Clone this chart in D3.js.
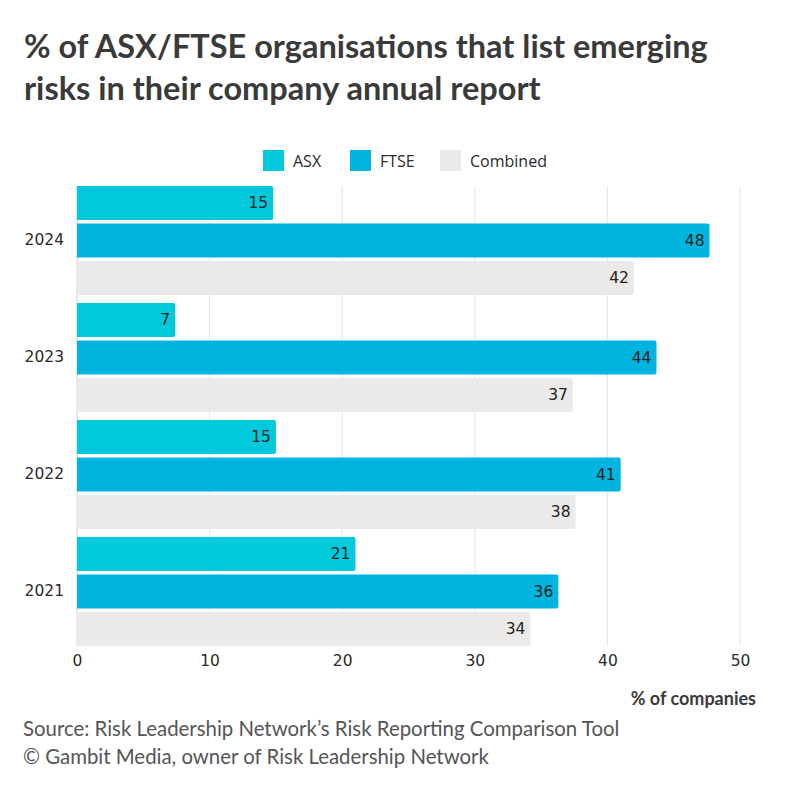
<!DOCTYPE html>
<html><head><meta charset="utf-8">
<script src="https://cdn.jsdelivr.net/npm/d3@7"></script>
<style>body{margin:0;background:#fff;}svg{display:block;}</style>
</head><body>
<svg id="c" width="800" height="800"></svg>
<script>
const years = ["2024", "2023", "2022", "2021"];
const seriesNames = ["ASX", "FTSE", "Combined"];
const asx = [14.8, 7.4, 15.0, 21.0];
const ftse = [47.7, 43.7, 41.0, 36.3];
const combined = [42.0, 37.4, 37.6, 34.2];
const xTicks = [0, 10, 20, 30, 40, 50];
const colors = ["#00C9DB", "#00B4E0", "#EBEAE8"];

const svg = d3.select("#c");
const fontMain = "Lato, 'Open Sans', sans-serif";

svg.append("text").attr("x", 24).attr("y", 58).attr("font-family", fontMain)
  .attr("font-weight", 700).attr("font-size", 32.5).attr("fill", "#3b3a3a")
  .text("% of ASX/FTSE organisations that list emerging");
svg.append("text").attr("x", 24).attr("y", 100).attr("font-family", fontMain)
  .attr("font-weight", 700).attr("font-size", 32.5).attr("fill", "#3b3a3a")
  .text("risks in their company annual report");

const x = d3.scaleLinear().domain([0, 50]).range([77, 740]);
const y = d3.scaleBand().domain(years).range([186, 646]).paddingInner(0.068).paddingOuter(0);
const ySub = d3.scaleBand().domain(seriesNames).range([0, y.bandwidth()]).paddingInner(0.09);

// gridlines
svg.append("g").selectAll("line").data(xTicks).join("line")
  .attr("x1", d => x(d)).attr("x2", d => x(d))
  .attr("y1", 186).attr("y2", 646)
  .attr("stroke", d => d === 0 ? "#cfcfcf" : "#e4e4e4").attr("stroke-width", 1);

// x axis
const xAxis = svg.append("g").attr("transform", "translate(0,646)")
  .call(d3.axisBottom(x).tickValues(xTicks).tickSize(0).tickPadding(9));
xAxis.select(".domain").remove();
xAxis.selectAll("text").attr("font-family", "'DejaVu Sans', sans-serif").attr("font-size", 15.5).attr("fill", "#2a2a2a");

// y axis
const yAxis = svg.append("g").attr("transform", "translate(77,0)")
  .call(d3.axisLeft(y).tickSize(0).tickPadding(13));
yAxis.select(".domain").remove();
yAxis.selectAll("text").attr("font-family", "'DejaVu Sans', sans-serif").attr("font-size", 15.5).attr("fill", "#2a2a2a");

const data = [];
years.forEach((yr, i) => {
  [asx[i], ftse[i], combined[i]].forEach((v, j) => data.push({ year: yr, s: seriesNames[j], v, c: colors[j] }));
});

const r = 2;
function barPath(d) {
  const x0 = x(0), x1 = x(d.v), y0 = y(d.year) + ySub(d.s), h = ySub.bandwidth();
  return `M${x0},${y0}H${x1 - r}Q${x1},${y0} ${x1},${y0 + r}V${y0 + h - r}Q${x1},${y0 + h} ${x1 - r},${y0 + h}H${x0}Z`;
}
svg.append("g").selectAll("path").data(data).join("path")
  .attr("d", barPath).attr("fill", d => d.c);

svg.append("g").selectAll("text").data(data).join("text")
  .attr("x", d => x(d.v) - 5)
  .attr("y", d => y(d.year) + ySub(d.s) + ySub.bandwidth() / 2)
  .attr("dy", "0.35em").attr("text-anchor", "end")
  .attr("font-family", "'DejaVu Sans', sans-serif").attr("font-size", 15.5).attr("fill", "#222")
  .text(d => Math.round(d.v));

// legend
const legX = [263, 350, 440];
const lg = svg.append("g");
seriesNames.forEach((s, i) => {
  lg.append("rect").attr("x", legX[i]).attr("y", 150).attr("width", 21).attr("height", 21).attr("fill", colors[i]);
  lg.append("text").attr("x", legX[i] + 30).attr("y", 166.5).attr("font-family", "'Open Sans', sans-serif")
    .attr("font-size", 16).attr("fill", "#2a2a2a").text(s);
});

svg.append("text").attr("x", 756).attr("y", 705).attr("text-anchor", "end")
  .attr("font-family", fontMain).attr("font-weight", 700).attr("font-size", 18).attr("fill", "#3b3a3a")
  .text("% of companies");

svg.append("text").attr("x", 23).attr("y", 736).attr("font-family", fontMain)
  .attr("font-size", 20.4).attr("fill", "#555").text("Source: Risk Leadership Network’s Risk Reporting Comparison Tool");
svg.append("text").attr("x", 23).attr("y", 764).attr("font-family", fontMain)
  .attr("font-size", 20.4).attr("fill", "#555").text("© Gambit Media, owner of Risk Leadership Network");
</script>
</body></html>
